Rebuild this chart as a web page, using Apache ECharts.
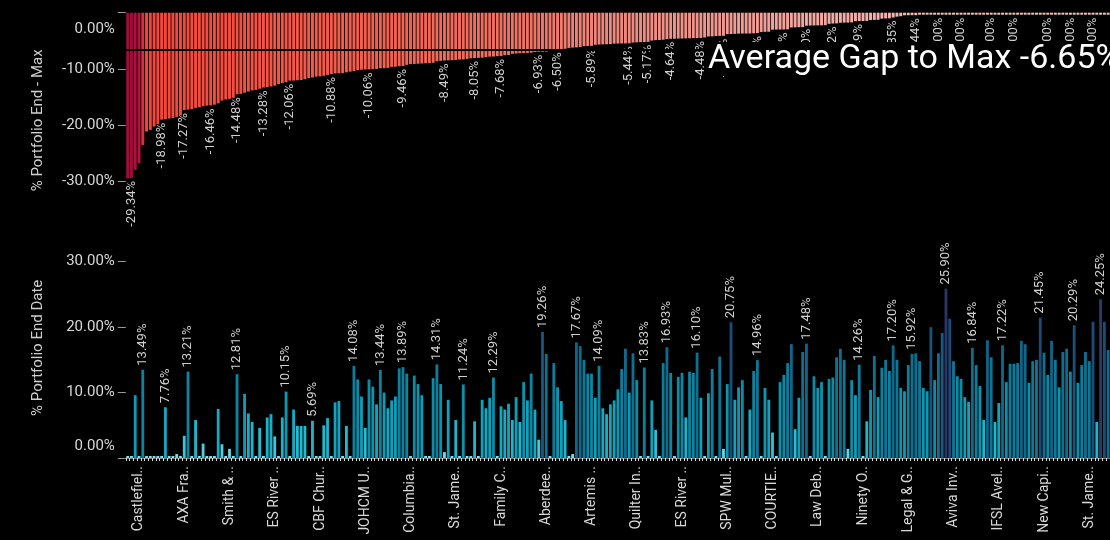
<!DOCTYPE html>
<html><head><meta charset="utf-8">
<script src="https://cdn.jsdelivr.net/npm/echarts@6/dist/echarts.min.js"></script>
<style>html,body{margin:0;padding:0;background:#000;}#c{width:1110px;height:540px;}</style>
</head><body><div id="c"></div>
<script>
const FONT = 'Roboto, "Noto Sans", sans-serif';

// visible category labels (every 12th fund, starting at index 3)
const categoryLabels = ["Castlefiel..","AXA Fra..","Smith & ..","ES River ..","CBF Chur..","JOHCM U..","Columbia..","St. Jame..","Family C..","Aberdee..","Artemis ..","Quilter In..","ES River ..","SPW Mul..","COURTIE..","Law Deb..","Ninety O..","Legal & G..","Aviva Inv..","IFSL Avel..","New Capi..","St. Jame.."];

// % Portfolio End - Max (sorted)
const gapToMax = [
-29.40,-29.34,-27.90,-26.70,-23.50,-21.10,-20.80,-20.20,-19.80,-18.98,
-18.90,-18.80,-18.70,-18.50,-18.20,-17.27,-17.20,-17.10,-16.90,-16.80,
-16.60,-16.50,-16.46,-16.33,-16.10,-15.60,-15.40,-15.30,-15.10,-14.48,
-14.40,-14.20,-14.00,-13.80,-13.70,-13.50,-13.28,-13.20,-13.10,-12.95,
-12.70,-12.50,-12.35,-12.06,-12.05,-12.00,-11.95,-11.80,-11.60,-11.50,
-11.35,-11.30,-11.20,-11.05,-10.88,-10.80,-10.76,-10.70,-10.59,-10.47,
-10.35,-10.20,-10.12,-10.08,-10.06,-10.02,-9.98,-9.87,-9.85,-9.80,
-9.62,-9.58,-9.50,-9.46,-9.25,-9.12,-9.10,-9.06,-9.02,-8.98,
-8.96,-8.90,-8.62,-8.55,-8.49,-8.46,-8.44,-8.40,-8.32,-8.30,
-8.20,-8.10,-8.05,-8.02,-7.98,-7.90,-7.80,-7.78,-7.72,-7.68,
-7.55,-7.50,-7.30,-7.25,-7.20,-7.18,-7.14,-7.10,-6.98,-6.93,
-6.92,-6.90,-6.80,-6.62,-6.50,-6.48,-6.40,-6.25,-6.20,-6.16,
-6.10,-5.95,-5.92,-5.89,-5.70,-5.65,-5.62,-5.60,-5.58,-5.50,
-5.48,-5.46,-5.45,-5.44,-5.30,-5.26,-5.22,-5.20,-5.17,-4.95,
-4.88,-4.85,-4.80,-4.70,-4.64,-4.62,-4.60,-4.58,-4.56,-4.54,
-4.52,-4.50,-4.48,-4.40,-4.22,-4.20,-4.15,-4.12,-4.10,-3.80,
-3.78,-3.76,-3.72,-3.70,-3.70,-3.69,-3.66,-3.60,-3.42,-3.40,
-3.38,-3.02,-3.00,-2.99,-2.98,-2.96,-2.62,-2.60,-2.58,-2.56,
-2.30,-2.28,-2.27,-2.25,-2.24,-2.22,-1.98,-1.92,-1.90,-1.78,
-1.76,-1.75,-1.72,-1.50,-1.49,-1.47,-1.45,-1.30,-1.28,-1.26,
-1.05,-1.02,-1.00,-0.85,-0.70,-0.62,-0.46,-0.45,-0.44,-0.44,
-0.001,-0.001,-0.001,-0.001,-0.001,-0.001,-0.001,-0.001,-0.001,-0.001,
-0.001,-0.001,-0.001,-0.001,-0.001,-0.001,-0.001,-0.001,-0.001,-0.001,
-0.001,-0.001,-0.001,-0.001,-0.001,-0.001,-0.001,-0.001,-0.001,-0.001,
-0.001,-0.001,-0.001,-0.001,-0.001,-0.001,-0.001,-0.001,-0.001,-0.001,
-0.001,-0.001,-0.001,-0.001,-0.001,-0.001,-0.001,-0.001,-0.001,-0.001,
-0.001
];

// % Portfolio End Date (same fund order)
const endDate = [
0.2,0.2,9.6,0.2,13.49,0.3,0.2,0.2,0.2,0.2,
7.76,0.2,0.2,0.6,0.2,3.4,13.21,0.2,5.8,0.2,
2.2,0.2,0.2,0.2,7.5,2.1,0.2,1.4,0.2,12.81,
0.2,9.8,6.8,5.5,0.3,4.6,0.2,6.2,6.7,3.3,
0.2,6.2,10.15,0.2,7.4,4.9,4.9,4.9,0.2,5.69,
0.2,0.2,5.0,6.1,0.2,8.5,8.7,0.2,4.9,0.2,
14.08,12.0,9.4,4.6,12.0,10.9,8.2,13.44,10.0,7.6,
8.8,9.4,13.7,13.89,12.9,0.2,12.6,11.3,9.6,0.2,
0.2,12.2,14.31,11.3,0.9,8.9,0.2,5.8,0.2,11.24,
0.2,0.2,5.6,0.2,8.9,7.6,9.2,12.29,0.2,7.9,
7.4,8.3,5.8,9.3,5.5,11.6,8.8,12.9,7.4,2.8,
19.26,15.9,0.2,14.5,10.8,8.7,5.8,0.2,0.6,17.67,
17.1,15.0,12.9,12.9,9.2,14.09,7.6,6.7,8.2,8.8,
10.5,13.6,16.7,10.0,16.0,11.9,0.2,13.83,0.2,8.8,
4.3,0.2,14.5,16.93,13.0,0.2,12.4,13.0,6.2,13.2,
13.0,16.10,9.2,0.2,9.9,13.6,0.2,15.5,1.4,11.3,
20.75,8.9,10.8,11.9,0.2,7.4,13.3,14.96,0.2,10.7,
8.9,3.9,0.2,11.6,12.7,14.5,17.4,4.4,9.2,16.2,
17.48,0.2,12.5,10.7,11.6,0.2,12.1,12.3,15.4,16.7,
15.0,1.4,11.9,9.6,14.26,0.2,5.6,10.4,15.6,9.3,
13.8,15.0,13.3,17.20,15.0,10.7,10.2,14.2,15.92,16.0,
14.8,10.7,10.2,20.0,11.9,16.0,19.1,25.90,21.3,14.8,
12.5,12.1,9.3,8.6,16.84,14.2,11.0,5.8,18.0,15.4,
5.5,8.4,17.22,11.6,14.4,14.4,14.5,17.9,17.4,11.5,
14.8,15.0,21.45,16.1,12.7,17.9,15.0,10.8,16.2,16.7,
13.2,20.29,11.5,14.2,16.2,14.8,20.8,5.5,24.25,20.8,
16.5
];

const gapLabelIdx = [1,9,15,22,29,36,43,54,64,73,84,92,99,109,114,123,133,138,144,152,158,167,174,180,187,194,203,209,215,221,229,235,244,250,256];
const endLabelIdx = [4,10,16,29,42,49,60,67,73,82,89,97,110,119,125,137,143,151,160,167,180,194,203,208,217,224,232,242,251,258];
const averageGap = -6.65;
const gapTicks = [0,-10,-20,-30];
const endTicks = [0,10,20,30];

const N = gapToMax.length;
const categories = Array.from({length: N}, (_, i) => i % 12 === 3 ? categoryLabels[(i - 3) / 12] : 'Fund ' + (i + 1));

const gapStops = [[-29.4,'#a30b3c'],[-26.5,'#b5143f'],[-23.5,'#d6303e'],[-21.5,'#f2453b'],[-15,'#f44e40'],[-10,'#f25f4f'],[-7,'#f07567'],[-5,'#f08e84'],[-3,'#f3a39c'],[-1,'#f5b2ad'],[0,'#f7c0bc']];
const endStops = [[0,'#8fe0ea'],[2,'#55cde0'],[5,'#1fbad0'],[9,'#0aa2bc'],[12,'#0a8ea8'],[15,'#0a7896'],[18,'#0f6488'],[21,'#1b4b78'],[26,'#2b3668']];

function hex(c){return [parseInt(c.slice(1,3),16),parseInt(c.slice(3,5),16),parseInt(c.slice(5,7),16)];}
function mix(a,b,t){const A=hex(a),B=hex(b);return 'rgb('+A.map((x,k)=>Math.round(x+(B[k]-x)*t)).join(',')+')';}
function colorAt(stops,v){
  if(v<=stops[0][0]) return stops[0][1];
  for(let k=1;k<stops.length;k++){ if(v<=stops[k][0]){ const a=stops[k-1],b=stops[k]; return mix(a[1],b[1],(v-a[0])/(b[0]-a[0])); } }
  return stops[stops.length-1][1];
}
const pct = v => (Math.round(v*100)/100).toFixed(2) + '%';
const axisFmt = v => v.toFixed(2) + '%';
const labelStyle = {color:'#d8d8d8', fontSize:15, fontFamily:FONT};

const chart = echarts.init(document.getElementById('c'), null, {renderer:'canvas'});
chart.setOption({
  backgroundColor:'#000',
  animation:false,
  title:{ text:'Average Gap to Max ' + averageGap.toFixed(2) + '%', left:704, top:43, padding:[0,4,0,4], backgroundColor:'#000',
    textStyle:{color:'#ffffff', fontSize:34, fontWeight:'normal', fontFamily:FONT, lineHeight:32} },
  grid:[{left:125.8, right:0, top:12.7, bottom:312}, {left:125.8, right:0, top:237.7, bottom:82}],
  xAxis:[
    {gridIndex:0, type:'category', data:categories, show:false},
    {gridIndex:1, type:'category', data:categories,
      axisLine:{show:true, lineStyle:{color:'#777'}},
      axisTick:{show:true, interval:0, length:3, lineStyle:{color:'#ddd'}},
      axisLabel:{interval:(i)=> i % 12 === 3, rotate:90, color:'#d8d8d8', fontSize:14, fontFamily:FONT, margin:8}}
  ],
  yAxis:[
    {gridIndex:0, type:'value', max:0, min:v=>v.min*1.3,
      name:'% Portfolio End - Max', nameLocation:'middle', nameGap:80,
      nameTextStyle:{color:'#cfcfcf', fontSize:15, fontFamily:FONT},
      axisLine:{show:false}, splitLine:{show:false},
      axisTick:{show:true, length:8, lineStyle:{color:'#999'}, customValues:gapTicks},
      axisLabel:Object.assign({customValues:gapTicks, margin:11,
        formatter:v=> v === 0 ? '{z|' + axisFmt(0) + '}' : axisFmt(v),
        rich:{z:Object.assign({padding:[34,0,0,0]}, labelStyle)}}, labelStyle)},
    {gridIndex:1, type:'value', min:0, max:v=>v.max*1.3,
      name:'% Portfolio End Date', nameLocation:'middle', nameGap:80,
      nameTextStyle:{color:'#cfcfcf', fontSize:15, fontFamily:FONT},
      axisLine:{show:false}, splitLine:{show:false},
      axisTick:{show:true, length:8, lineStyle:{color:'#999'}, customValues:endTicks},
      axisLabel:Object.assign({customValues:endTicks, margin:11,
        formatter:v=> v === 0 ? '{z|' + axisFmt(0) + '}' : axisFmt(v),
        rich:{z:Object.assign({padding:[0,0,24,0]}, labelStyle)}}, labelStyle)}
  ],
  series:[
    {type:'bar', xAxisIndex:0, yAxisIndex:0, barCategoryGap:'22%', barMinHeight:2,
      data:gapToMax.map((v,i)=>({value:v, label:{show:gapLabelIdx.includes(i)}})),
      itemStyle:{color:p=>colorAt(gapStops,p.value)},
      label:{position:'bottom', rotate:90, align:'right', verticalAlign:'middle', distance:3, color:'#d0d0d0', fontSize:13, fontFamily:FONT, formatter:p=>pct(p.value)},
      markLine:{silent:true, symbol:'none', label:{show:false}, lineStyle:{color:'#000', width:2, type:'solid'}, data:[{yAxis:averageGap}]}
    },
    {type:'bar', xAxisIndex:1, yAxisIndex:1, barCategoryGap:'25%', barMinHeight:2,
      data:endDate.map((v,i)=>({value:v, label:{show:endLabelIdx.includes(i)}})),
      itemStyle:{color:p=>colorAt(endStops,p.value)},
      label:{position:'top', rotate:90, align:'left', verticalAlign:'middle', distance:4, color:'#d0d0d0', fontSize:13, fontFamily:FONT, formatter:p=>pct(p.value)}
    }
  ]
});
</script>
</body></html>
